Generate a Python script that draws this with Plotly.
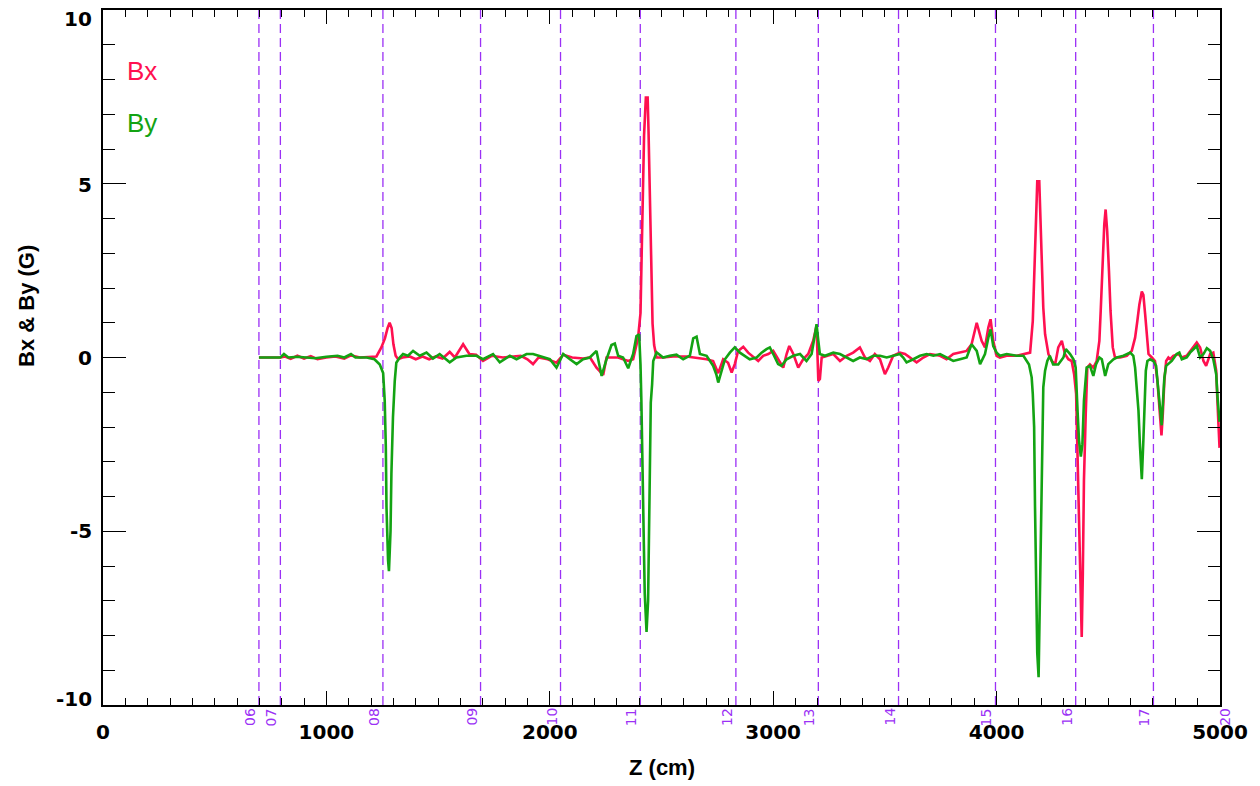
import plotly.graph_objects as go

# ---------------- data ----------------
bx_z = [698, 794, 815, 840, 870, 900, 930, 960, 1000, 1040, 1080, 1110, 1150, 1190, 1224, 1246, 1262, 1274, 1283, 1292,
        1300, 1310, 1321, 1340, 1373, 1400, 1430, 1460, 1490, 1520, 1552, 1575, 1595, 1612, 1640, 1670, 1701, 1740, 1790, 1830,
        1870, 1900, 1925, 1950, 1990, 2030, 2060, 2100, 2150, 2180, 2209, 2239, 2254, 2280, 2306, 2328, 2351, 2373, 2395, 2406,
        2415, 2422, 2430, 2438, 2442, 2448, 2452, 2460, 2467, 2478, 2507, 2552, 2612, 2657, 2702, 2731, 2754, 2776, 2798, 2814,
        2828, 2843, 2866, 2888, 2903, 2933, 2955, 2978, 3000, 3022, 3045, 3060, 3072, 3090, 3112, 3134, 3157, 3179, 3194, 3202,
        3209, 3217, 3239, 3269, 3299, 3329, 3358, 3388, 3411, 3433, 3455, 3478, 3500, 3515, 3537, 3567, 3590, 3612, 3642, 3672,
        3702, 3747, 3776, 3806, 3836, 3866, 3888, 3911, 3933, 3948, 3963, 3973, 3985, 4000, 4015, 4045, 4090, 4120, 4150, 4162,
        4168, 4175, 4182, 4191, 4197, 4205, 4209, 4217, 4232, 4247, 4262, 4276, 4292, 4306, 4321, 4336, 4347, 4356, 4363, 4369,
        4377, 4381, 4386, 4391, 4399, 4406, 4418, 4433, 4448, 4460, 4466, 4475, 4482, 4488, 4495, 4503, 4510, 4520, 4530, 4553,
        4583, 4605, 4620, 4630, 4639, 4650, 4657, 4665, 4672, 4680, 4695, 4709, 4720, 4727, 4732, 4738, 4744, 4751, 4759, 4769,
        4777, 4791, 4814, 4829, 4851, 4874, 4896, 4911, 4926, 4938, 4956, 4970, 4983, 4989, 4993, 4998]
bx = [0.0, 0.0, 0.03, -0.04, 0.05, -0.03, 0.04, -0.05, 0.0, 0.03, -0.03, 0.06, 0.0, 0.02, 0.03, 0.29, 0.55, 0.85, 1.0, 0.85,
      0.38, 0.05, -0.05, 0.0, 0.03, -0.05, 0.03, -0.05, 0.03, -0.03, 0.16, 0.0, 0.2, 0.38, 0.1, 0.08, -0.1, 0.05, 0.0, 0.03,
      0.05, -0.05, -0.19, 0.0, -0.05, -0.15, 0.08, 0.0, -0.03, 0.0, -0.29, -0.5, 0.0, 0.0, 0.0, -0.05, -0.1, -0.05, 0.56, 1.28,
      4.35, 6.4, 7.48, 7.48, 6.5, 4.67, 2.52, 0.97, 0.36, 0.0, 0.0, 0.03, 0.03, 0.0, -0.05, -0.1, -0.45, -0.05, -0.15, -0.43,
      -0.19, 0.19, 0.31, 0.14, 0.05, -0.1, 0.05, 0.1, 0.19, -0.05, -0.29, 0.1, 0.33, 0.1, -0.29, -0.05, 0.1, 0.48, 0.91, -0.67,
      -0.62, 0.0, 0.05, 0.1, -0.1, 0.05, 0.14, 0.29, 0.0, -0.1, 0.1, -0.05, -0.48, -0.29, 0.05, 0.14, 0.1, 0.0, -0.14, 0.0,
      0.1, 0.05, -0.05, 0.1, 0.14, 0.19, 0.38, 1.0, 0.48, 0.29, 0.86, 1.1, 0.48, 0.05, 0.0, 0.05, 0.05, 0.1, 0.14, 1.05,
      2.3, 3.73, 5.07, 5.07, 3.92, 2.58, 1.43, 0.67, 0.1, -0.1, -0.2, 0.29, 0.48, 0.1, -0.05, -0.1, -0.48, -1.05, -2.96, -5.35,
      -7.56, -8.04, -6.2, -3.54, -1.62, -0.29, -0.2, -0.29, -0.1, 0.48, 1.34, 2.78, 3.83, 4.26, 3.64, 2.49, 1.34, 0.29, 0.0, 0.0,
      0.05, 0.19, 0.57, 1.05, 1.52, 1.9, 1.8, 1.24, 0.57, 0.1, 0.0, -0.1, -0.67, -1.33, -1.9, -2.24, -1.62, -0.67, -0.1, 0.0,
      -0.05, 0.05, 0.1, 0.0, 0.05, 0.24, 0.43, 0.29, -0.1, -0.24, 0.1, 0.14, -0.38, -1.33, -2.2, -2.6]

by_z = [698, 794, 810, 830, 870, 900, 950, 1000, 1050, 1080, 1110, 1130, 1180, 1215, 1239, 1254, 1261, 1266, 1269, 1276,
        1280, 1284, 1287, 1291, 1298, 1306, 1313, 1328, 1343, 1365, 1388, 1418, 1448, 1477, 1507, 1552, 1582, 1627, 1672, 1701,
        1746, 1776, 1821, 1851, 1896, 1925, 1970, 2000, 2030, 2060, 2090, 2120, 2149, 2179, 2209, 2232, 2254, 2276, 2291, 2306,
        2328, 2351, 2373, 2388, 2400, 2406, 2410, 2415, 2421, 2425, 2433, 2440, 2443, 2448, 2452, 2458, 2463, 2478, 2507, 2537,
        2567, 2597, 2627, 2642, 2657, 2672, 2702, 2731, 2746, 2754, 2769, 2784, 2806, 2828, 2851, 2873, 2895, 2926, 2948, 2970,
        2985, 3000, 3022, 3037, 3060, 3090, 3120, 3149, 3172, 3187, 3194, 3202, 3209, 3232, 3269, 3299, 3329, 3358, 3388, 3418,
        3448, 3478, 3508, 3537, 3567, 3582, 3597, 3627, 3657, 3687, 3717, 3747, 3776, 3806, 3836, 3866, 3888, 3911, 3926, 3948,
        3963, 3973, 3985, 4000, 4015, 4045, 4090, 4120, 4145, 4157, 4162, 4168, 4172, 4177, 4182, 4188, 4194, 4198, 4205, 4209,
        4217, 4227, 4238, 4253, 4276, 4299, 4310, 4329, 4344, 4354, 4363, 4369, 4377, 4384, 4391, 4403, 4418, 4433, 4445, 4460,
        4471, 4486, 4500, 4523, 4538, 4568, 4598, 4612, 4620, 4627, 4635, 4642, 4650, 4657, 4662, 4668, 4675, 4687, 4702, 4714,
        4720, 4726, 4732, 4739, 4745, 4751, 4759, 4769, 4784, 4806, 4818, 4829, 4851, 4866, 4881, 4896, 4911, 4926, 4941, 4956,
        4970, 4983, 4989, 4993, 4998]
by = [0.0, 0.0, 0.1, 0.0, 0.02, 0.0, -0.02, 0.02, 0.05, 0.0, 0.1, 0.0, 0.0, -0.05, -0.2, -0.45, -1.24, -2.58, -4.3, -5.83,
      -6.15, -5.5, -5.0, -3.34, -1.72, -0.67, -0.15, 0.0, 0.1, 0.05, 0.19, 0.05, 0.14, -0.03, 0.1, -0.14, 0.0, 0.05, 0.05, -0.05,
      0.1, -0.14, 0.05, -0.05, 0.1, 0.1, 0.0, -0.05, -0.29, 0.1, -0.05, -0.19, -0.05, 0.0, 0.19, -0.53, -0.05, 0.36, 0.4, 0.05,
      0.0, -0.31, 0.1, 0.62, 0.67, -0.2, -1.27, -3.86, -5.38, -6.8, -7.9, -7.0, -5.2, -3.0, -1.3, -0.77, -0.1, 0.15, 0.0, 0.05,
      0.08, -0.05, 0.05, 0.55, 0.6, 0.1, 0.05, -0.24, -0.5, -0.72, -0.38, -0.05, 0.14, 0.29, 0.14, 0.05, -0.05, 0.0, 0.14, 0.24,
      0.29, 0.1, -0.19, -0.24, -0.05, 0.05, 0.1, -0.1, 0.1, 0.67, 0.96, 0.48, 0.1, 0.05, 0.14, 0.1, 0.0, -0.1, 0.0, -0.05,
      0.05, 0.05, 0.0, 0.05, 0.1, 0.0, -0.14, -0.05, 0.05, 0.1, 0.05, 0.1, 0.0, -0.1, -0.05, 0.0, 0.38, 0.19, -0.19, 0.1,
      0.57, 0.81, 0.33, 0.14, 0.05, 0.1, 0.05, 0.05, -0.2, -0.57, -1.05, -2.0, -4.3, -6.8, -8.5, -9.2, -7.07, -4.6, -2.39, -0.86,
      -0.38, -0.1, 0.05, -0.2, -0.2, 0.0, 0.24, 0.1, -0.05, -0.29, -1.62, -2.39, -2.85, -2.5, -1.24, -0.29, -0.24, -0.53, -0.2, 0.0,
      -0.05, -0.53, -0.19, -0.05, 0.0, 0.05, 0.14, 0.05, -0.29, -0.76, -1.52, -2.57, -3.5, -2.38, -1.33, -0.38, -0.1, -0.05, -0.1, -0.24,
      -0.67, -1.14, -1.52, -1.95, -1.24, -0.57, -0.24, -0.19, -0.1, 0.1, 0.14, -0.05, 0.0, 0.14, 0.24, 0.33, 0.0, 0.1, 0.27, 0.19,
      -0.05, -0.48, -1.14, -1.6, -1.85]

# marker (element) positions along Z and their labels
marker_z = [698, 794, 1253, 1690, 2048, 2405, 2833, 3202, 3561, 3995, 4354, 4702, 5062]
marker_labels = ["06", "07", "08", "09", "10", "11", "12", "13", "14", "15", "16", "17", "20"]

x_ticks = [0, 1000, 2000, 3000, 4000, 5000]
y_ticks = [-10, -5, 0, 5, 10]

# ---------------- styling ----------------
RED = "#ff1050"
GREEN = "#13a313"
PURPLE = "#9b30f5"
FONT = "Liberation Sans"
NUMFONT = "DejaVu Sans"
X_MIN, X_MAX = 0, 5000
Y_MIN, Y_MAX = -10, 10

fig = go.Figure()
fig.add_trace(go.Scatter(x=bx_z, y=bx, mode="lines", line=dict(color=RED, width=2.6), name="Bx"))
fig.add_trace(go.Scatter(x=by_z, y=by, mode="lines", line=dict(color=GREEN, width=2.6), name="By"))

for z, lab in zip(marker_z, marker_labels):
    if X_MIN <= z <= X_MAX:
        fig.add_shape(type="line", xref="x", yref="y", x0=z, x1=z, y0=Y_MIN, y1=Y_MAX,
                      line=dict(color=PURPLE, width=1.3, dash="9px,5px"), layer="below")
        ax_ref, ax_x = "x", z
    else:
        ax_ref, ax_x = "paper", (z - X_MIN) / (X_MAX - X_MIN)
    fig.add_annotation(x=ax_x, y=0, xref=ax_ref, yref="paper", text=lab, showarrow=False,
                       textangle=-90, xanchor="right", yanchor="top", yshift=-2,
                       font=dict(family=NUMFONT, size=14, color=PURPLE), borderpad=0)

# y tick labels (IDL keeps the end labels inside the axis extent)
for v in y_ticks:
    shift = -9 if v == Y_MAX else (6 if v == Y_MIN else (-1 if v > 0 else 0))
    fig.add_annotation(x=0, y=v, xref="paper", yref="y", text=str(v), showarrow=False,
                       xanchor="right", yanchor="middle", xshift=-9, yshift=shift,
                       font=dict(family=NUMFONT, size=20, color="black", weight="bold"))

# legend-like labels
fig.add_annotation(x=0.02, y=0.912, xref="paper", yref="paper", text="Bx", showarrow=False,
                   xanchor="left", yanchor="middle", font=dict(family=FONT, size=26, color=RED))
fig.add_annotation(x=0.02, y=0.838, xref="paper", yref="paper", text="By", showarrow=False,
                   xanchor="left", yanchor="middle", font=dict(family=FONT, size=26, color=GREEN))

# axis titles
fig.add_annotation(x=0.5, y=-0.09, xref="paper", yref="paper", text="Z (cm)", showarrow=False,
                   xanchor="center", yanchor="middle",
                   font=dict(family=FONT, size=22, color="black", weight="bold"))
fig.add_annotation(x=-0.069, y=0.574, xref="paper", yref="paper", text="Bx & By (G)", showarrow=False,
                   textangle=-90, xanchor="center", yanchor="middle",
                   font=dict(family=FONT, size=22, color="black", weight="bold"))

axis_common = dict(showgrid=False, zeroline=False, showline=True, linecolor="black", linewidth=1.5,
                   mirror="ticks", ticks="inside", tickcolor="black", tickwidth=1.3)

fig.update_xaxes(range=[X_MIN, X_MAX], tickvals=x_ticks, ticktext=[str(v) for v in x_ticks],
                 ticklen=14, ticklabelstandoff=8,
                 tickfont=dict(family=NUMFONT, size=20, color="black", weight="bold"),
                 minor=dict(dtick=100, ticklen=7, ticks="inside", tickcolor="black", tickwidth=1.3, showgrid=False),
                 **axis_common)
fig.update_yaxes(range=[Y_MIN, Y_MAX], tickvals=y_ticks, showticklabels=False,
                 ticklen=23,
                 minor=dict(dtick=1, ticklen=12, ticks="inside", tickcolor="black", tickwidth=1.3, showgrid=False),
                 **axis_common)

fig.update_layout(width=1260, height=786, margin=dict(l=103, r=40, t=8, b=81),
                  plot_bgcolor="white", paper_bgcolor="white", showlegend=False,
                  font=dict(family=FONT))

fig.write_html("out.html")
